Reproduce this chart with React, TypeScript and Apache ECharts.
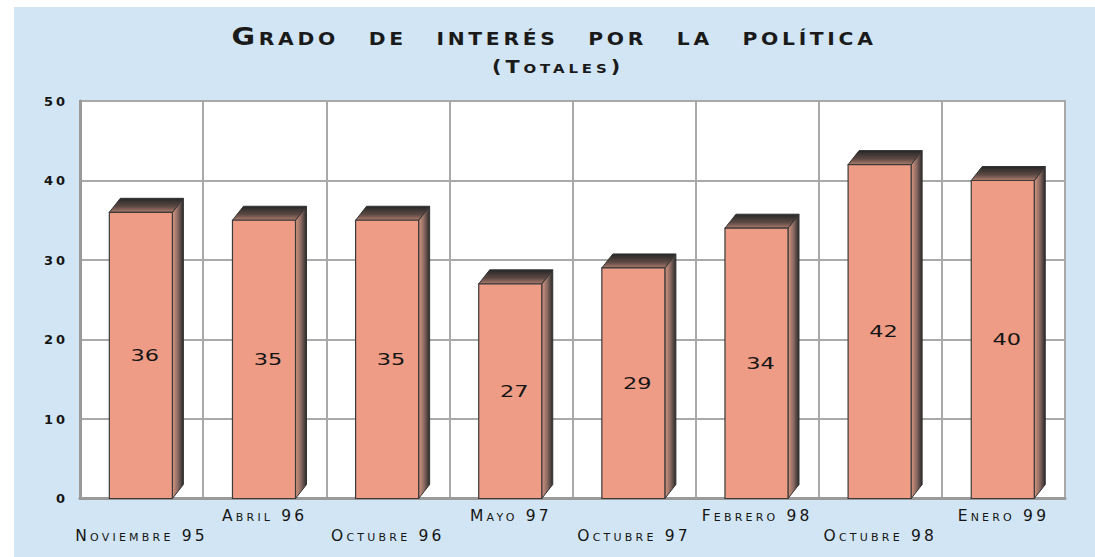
import React, { useEffect, useRef } from 'react';
import * as echarts from 'echarts';

const categories = ['Noviembre 95', 'Abril 96', 'Octubre 96', 'Mayo 97', 'Octubre 97', 'Febrero 98', 'Octubre 98', 'Enero 99'];
const values = [36, 35, 35, 27, 29, 34, 42, 40];
const yMin = 0;
const yMax = 50;
const yStep = 10;
const titleText = 'Grado de interés por la política';
const subtitleText = '(Totales)';

const FONT = 'DejaVu Sans';
const spaced = (ls: number, ws = 0) => `${FONT}; letter-spacing: ${ls}px; word-spacing: ${ws}px; font-variant: small-caps`;

export default function App() {
  const ref = useRef<HTMLDivElement>(null);
  useEffect(() => {
    document.body.style.margin = '0';
    const chart = echarts.init(ref.current!, null, { renderer: 'svg' });
    const option: any = {
      animation: false,
      backgroundColor: '#D1E5F4',
      graphic: [
        {
          type: 'text', x: 540, y: 29, scaleX: 1.15,
          style: { text: titleText, fontSize: 25, fontWeight: 'bold', fontFamily: spaced(3.2, 14), fill: '#1a1a1a', align: 'center', verticalAlign: 'middle' },
        },
        {
          type: 'text', x: 544, y: 60, scaleX: 1.15,
          style: { text: subtitleText, fontSize: 18, fontWeight: 'bold', fontFamily: spaced(3.4), fill: '#1a1a1a', align: 'center', verticalAlign: 'middle' },
        },
      ],
      grid: {
        left: 66, right: 30, top: 94, bottom: 58.5,
        show: true, backgroundColor: '#ffffff', borderColor: '#9c9c9c', borderWidth: 2,
      },
      xAxis: {
        type: 'category',
        data: categories,
        boundaryGap: true,
        axisTick: { show: false },
        axisLine: { show: true, lineStyle: { color: '#9a9a9a', width: 3 } },
        splitLine: { show: true, interval: 0, lineStyle: { color: '#a9a9a9', width: 2 } },
        axisLabel: {
          interval: 0,
          margin: 8,
          lineHeight: 19.5,
          fontSize: 15.5,
          fontFamily: spaced(3.2),
          color: '#151515',
          formatter: (v: string, i: number) => (i % 2 === 0 ? '\n' + v : v),
        },
      },
      yAxis: {
        type: 'value',
        min: yMin, max: yMax, interval: yStep,
        axisTick: { show: false },
        axisLine: { show: true, lineStyle: { color: '#9a9a9a', width: 3 } },
        splitLine: { show: true, lineStyle: { color: '#a9a9a9', width: 2 } },
        axisLabel: {
          margin: 12,
          fontSize: 13,
          fontWeight: 'bold',
          fontFamily: spaced(3),
          color: '#151515',
        },
      },
      series: [
        {
          type: 'custom',
          data: values.map((v, i) => [i, v]),
          encode: { x: 0, y: 1 },
          renderItem: (params: any, api: any) => {
            const i = api.value(0);
            const v = api.value(1);
            const base = api.coord([i, 0]);
            const top = api.coord([i, v]);
            const band = api.size([1, 0])[0];
            const w = band * 0.512;
            const cx = base[0] - 0.7;
            const l = cx - w / 2;
            const r = cx + w / 2;
            const ty = top[1];
            const by = base[1];
            const dx = 11;
            const dy = 14;
            return {
              type: 'group',
              children: [
                {
                  type: 'polygon',
                  shape: { points: [[r, ty], [r + dx, ty - dy], [r + dx, by - dy], [r, by]] },
                  style: {
                    fill: new echarts.graphic.LinearGradient(0, 0, 1, 0, [
                      { offset: 0, color: '#d8957f' },
                      { offset: 0.5, color: '#8a6a62' },
                      { offset: 1, color: '#2a2a2a' },
                    ]),
                    stroke: '#333333', lineWidth: 1,
                  },
                },
                {
                  type: 'polygon',
                  shape: { points: [[l, ty], [l + dx, ty - dy], [r + dx, ty - dy], [r, ty]] },
                  style: {
                    fill: new echarts.graphic.LinearGradient(0, 0, 0, 1, [
                      { offset: 0, color: '#262626' },
                      { offset: 0.6, color: '#5e4a45' },
                      { offset: 1, color: '#b07c6c' },
                    ]),
                    stroke: '#333333', lineWidth: 1,
                  },
                },
                {
                  type: 'rect',
                  shape: { x: l, y: ty, width: w, height: by - ty },
                  style: { fill: '#EE9C85', stroke: '#3a3a3a', lineWidth: 1.2 },
                },
                {
                  type: 'text',
                  x: cx + 4,
                  y: (ty + by) / 2,
                  scaleX: 1.4,
                  style: { text: String(v), fill: '#151515', fontSize: 16, fontFamily: FONT, align: 'center', verticalAlign: 'middle' },
                },
              ],
            };
          },
        },
      ],
    };
    chart.setOption(option);
    return () => chart.dispose();
  }, []);
  return (
    <div style={{ position: 'relative', width: 1095, height: 557, background: '#ffffff' }}>
      <div ref={ref} style={{ position: 'absolute', left: 14, top: 7, width: 1081, height: 550 }} />
    </div>
  );
}
